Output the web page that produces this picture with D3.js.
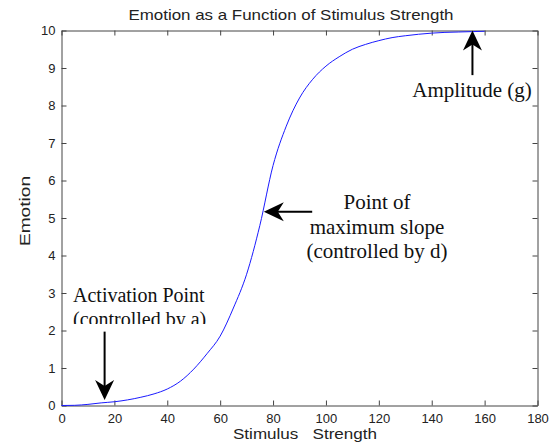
<!DOCTYPE html>
<html>
<head>
<meta charset="utf-8">
<script src="https://cdn.jsdelivr.net/npm/d3@7"></script>
<style>
  body { margin: 0; background: #fff; }
  svg { display: block; }
  .tick text { font-family: "Liberation Sans", Arial, sans-serif; font-size: 13px; fill: #222; }
  .tick line, .domain { stroke: #444; }
  .note { font-family: "Liberation Serif", "Times New Roman", serif; fill: #111; }
</style>
</head>
<body>
<div id="chart"></div>
<script>
// stimulus strength samples and emotion
var stimulus = [0, 5, 10, 15, 20, 25, 30, 35, 40, 45, 50, 55, 60, 65, 70, 75, 80,
  85, 90, 95, 100, 105, 110, 115, 120, 125, 130, 135, 140, 145, 150, 155, 160];
var emotion = [0, 0.005, 0.03, 0.07, 0.1, 0.15, 0.22, 0.31, 0.44, 0.65, 0.97, 1.38, 1.85, 2.6, 3.5, 4.8, 6.4,
  7.45, 8.2, 8.7, 9.05, 9.3, 9.5, 9.63, 9.73, 9.81, 9.86, 9.9, 9.93, 9.95, 9.96, 9.97, 9.98];
var xTicks = [0, 20, 40, 60, 80, 100, 120, 140, 160, 180];
var yTicks = [0, 1, 2, 3, 4, 5, 6, 7, 8, 9, 10];

var W = 559, H = 448;
var margin = { top: 30.5, right: 21.5, bottom: 42.5, left: 61.5 },
  width = W - margin.left - margin.right,
  height = H - margin.top - margin.bottom;

var svg = d3.select("#chart")
  .append("svg")
  .attr("width", W)
  .attr("height", H);

var g = svg.append("g")
  .attr("transform", "translate(" + margin.left + "," + margin.top + ")");

var x = d3.scaleLinear().domain([0, 180]).range([0, width]);
var y = d3.scaleLinear().domain([0, 10]).range([height, 0]);

// axes, ticks pointing inward on all four sides (matlab box)
g.append("g")
  .attr("transform", "translate(0," + height + ")")
  .call(d3.axisBottom(x).tickValues(xTicks).tickSizeInner(-5).tickSizeOuter(0).tickPadding(8));
g.append("g")
  .call(d3.axisLeft(y).tickValues(yTicks).tickSizeInner(-5).tickSizeOuter(0).tickPadding(6));
g.append("g")
  .call(d3.axisTop(x).tickValues(xTicks).tickSizeInner(-5).tickSizeOuter(0).tickFormat(""));
g.append("g")
  .attr("transform", "translate(" + width + ",0)")
  .call(d3.axisRight(y).tickValues(yTicks).tickSizeInner(-5).tickSizeOuter(0).tickFormat(""));

// the curve
var line = d3.line()
  .x(function (d, i) { return x(stimulus[i]) })
  .y(function (d) { return y(d) })
  .curve(d3.curveMonotoneX);

g.append("path")
  .datum(emotion)
  .attr("d", line)
  .attr("fill", "none")
  .attr("stroke", "#1a1aff")
  .attr("stroke-width", 1);

// title and axis labels
svg.append("text")
  .attr("x", 291).attr("y", 20)
  .attr("text-anchor", "middle")
  .attr("textLength", 325).attr("lengthAdjust", "spacingAndGlyphs")
  .style("font-family", "Liberation Sans, Arial, sans-serif")
  .style("font-size", "15px").style("fill", "#222")
  .text("Emotion as a Function of Stimulus Strength");

svg.append("text")
  .attr("x", 305).attr("y", 439)
  .attr("text-anchor", "middle")
  .attr("textLength", 144).attr("lengthAdjust", "spacingAndGlyphs")
  .style("font-family", "Liberation Sans, Arial, sans-serif")
  .style("font-size", "15px").style("fill", "#222")
  .style("white-space", "pre")
  .text("Stimulus   Strength");

svg.append("text")
  .attr("transform", "translate(30,211)rotate(-90)")
  .attr("text-anchor", "middle")
  .attr("textLength", 70).attr("lengthAdjust", "spacingAndGlyphs")
  .style("font-family", "Liberation Sans, Arial, sans-serif")
  .style("font-size", "15px").style("fill", "#222")
  .text("Emotion");

// annotation arrows (data coordinates)
function arrow(x0, y0, x1, y1) {
  var px0 = x(x0), py0 = y(y0), px1 = x(x1), py1 = y(y1);
  var ang = Math.atan2(py1 - py0, px1 - px0);
  g.append("line")
    .attr("x1", px0).attr("y1", py0)
    .attr("x2", px1 - 12 * Math.cos(ang)).attr("y2", py1 - 12 * Math.sin(ang))
    .attr("stroke", "#000").attr("stroke-width", 2);
  var head = [[0, 0], [-20, -9.5], [-14, 0], [-20, 9.5]];
  g.append("path")
    .attr("d", "M" + head.join("L") + "Z")
    .attr("transform", "translate(" + px1 + "," + py1 + ")rotate(" + ang * 180 / Math.PI + ")")
    .attr("fill", "#000");
}

arrow(155.4, 8.81, 155.4, 10);
arrow(94.8, 5.17, 76.5, 5.17);
arrow(16.3, 1.97, 16.3, 0.15);

// annotation texts
function note(xs, ys, str, size, anchor) {
  g.append("text")
    .attr("class", "note")
    .attr("x", xs - margin.left).attr("y", ys - margin.top)
    .attr("text-anchor", anchor)
    .style("font-size", size + "px")
    .text(str);
}

note(472, 97, "Amplitude (g)", 21, "middle");
note(377, 209, "Point of", 21, "middle");
note(377, 234, "maximum slope", 21, "middle");
note(377, 258, "(controlled by d)", 21, "middle");

// activation point label: second line is cut off in the original
svg.append("clipPath").attr("id", "actclip")
  .append("rect").attr("x", 0).attr("y", 0).attr("width", 300).attr("height", 324 - margin.top);
var act = g.append("g").attr("clip-path", "url(#actclip)");
act.append("text").attr("class", "note")
  .attr("x", 73 - margin.left).attr("y", 301.5 - margin.top)
  .style("font-size", "20px").text("Activation Point");
act.append("text").attr("class", "note")
  .attr("x", 73 - margin.left).attr("y", 326 - margin.top)
  .style("font-size", "20px").text("(controlled by a)");
</script>
</body>
</html>
